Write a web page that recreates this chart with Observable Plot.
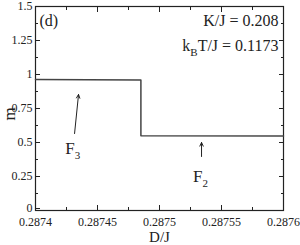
<!DOCTYPE html>
<html><head><meta charset="utf-8">
<script src="https://cdn.jsdelivr.net/npm/d3@7"></script>
<script src="https://cdn.jsdelivr.net/npm/@observablehq/plot@0.6"></script>
<style>body{margin:0;background:#fff}</style>
</head><body><div id="chart"></div>
<script>
// Data
const lineD = [0.2874, 0.287485, 0.287485, 0.2876];
const lineM = [0.963, 0.960, 0.550, 0.548];
const xTicks = [0.2874, 0.28745, 0.2875, 0.28755, 0.2876];
const xMinor = [0.287425, 0.287475, 0.287525, 0.287575];
const yTicks = [0, 0.25, 0.5, 0.75, 1, 1.25, 1.5];
const yMinor = [0.125, 0.375, 0.625, 0.875, 1.125, 1.375];
const arrowX1 = [0.2874315, 0.2875339];
const arrowY1 = [0.566, 0.397];
const arrowX2 = [0.2874347, 0.2875339];
const arrowY2 = [0.853, 0.50];
const phaseLabels = ["F_3", "F_2"];
const phaseX = [0.2874300, 0.2875330];
const phaseY = [0.455, 0.25];
const panelLabel = "(d)";
const paramLabels = ["K/J = 0.208", "k_BT/J = 0.1173"];

const lineData = lineD.map((d, i) => ({d, m: lineM[i]}));
const arrows = arrowX1.map((x, i) => ({x1: x, y1: arrowY1[i], x2: arrowX2[i], y2: arrowY2[i]}));
const phases = phaseLabels.map((t, i) => ({t, x: phaseX[i], y: phaseY[i]}));

const ink = "#222";
const fmt = d => String(d);
const none = () => "";

const plot = Plot.plot({
  width: 300, height: 245,
  marginLeft: 35, marginRight: 17, marginTop: 6, marginBottom: 35,
  style: {fontFamily: "'Liberation Serif', 'Times New Roman', serif", fontSize: "12px", color: ink, background: "#fff"},
  x: {domain: [0.2874, 0.2876]},
  y: {domain: [0, 1.5]},
  marks: [
    Plot.axisX(xTicks, {anchor: "bottom", tickSize: -5, tickPadding: 12, tickFormat: fmt, fontSize: 12, label: null}),
    Plot.axisX(xMinor, {anchor: "bottom", tickSize: -3, tickFormat: none, label: null}),
    Plot.axisX(xTicks, {anchor: "top", tickSize: -5, tickFormat: none, label: null}),
    Plot.axisX(xMinor, {anchor: "top", tickSize: -3, tickFormat: none, label: null}),
    Plot.axisY(yTicks.filter(d => d > 0), {anchor: "left", tickSize: -5, tickPadding: 8, tickFormat: fmt, fontSize: 12, label: null}),
    Plot.axisY(yTicks.filter(d => d === 0), {anchor: "left", tickSize: -5, tickPadding: 8, tickFormat: fmt, fontSize: 12, dy: -2, label: null}),
    Plot.axisY(yMinor, {anchor: "left", tickSize: -3, tickFormat: none, label: null}),
    Plot.axisY(yTicks, {anchor: "right", tickSize: -5, tickFormat: none, label: null}),
    Plot.axisY(yMinor, {anchor: "right", tickSize: -3, tickFormat: none, label: null}),
    Plot.frame({stroke: ink, strokeWidth: 1.2}),
    Plot.line(lineData, {x: "d", y: "m", stroke: "#444", strokeWidth: 1.5}),
    Plot.arrow(arrows, {x1: "x1", y1: "y1", x2: "x2", y2: "y2", stroke: ink, strokeWidth: 1, headLength: 6, headAngle: 50}),
    Plot.text(phases, {x: "x", y: "y", text: "t", fontSize: 17, fill: ink, textAnchor: "middle"}),
    Plot.text([panelLabel], {frameAnchor: "top-left", dx: 4, dy: 8, text: d => d, fontSize: 16, fill: ink, textAnchor: "start", lineAnchor: "top"}),
    Plot.text([paramLabels[0]], {frameAnchor: "top-right", dx: -5, dy: 8, text: d => d, fontSize: 16, fill: ink, textAnchor: "end", lineAnchor: "top"}),
    Plot.text([paramLabels[1]], {frameAnchor: "top-right", dx: -5, dy: 33, text: d => d, fontSize: 16, fill: ink, textAnchor: "end", lineAnchor: "top"}),
    Plot.text(["m"], {frameAnchor: "left", dx: -26, dy: 12, rotate: -90, text: d => d, fontSize: 17, fill: ink}),
    Plot.text(["D/J"], {frameAnchor: "bottom", dy: 21, text: d => d, fontSize: 15, fill: ink, lineAnchor: "top"})
  ]
});

// subscripts: "X_Yrest" -> X, sub Y, rest
d3.select(plot).selectAll("text").each(function() {
  const s = this.textContent;
  const i = s.indexOf("_");
  if (i < 0 || this.querySelector("tspan")) return;
  const before = s.slice(0, i), sub = s[i + 1], after = s.slice(i + 2);
  const el = d3.select(this);
  el.text(null);
  el.append("tspan").text(before);
  el.append("tspan").attr("font-size", 11).attr("dy", 5).text(sub);
  if (after) el.append("tspan").attr("dy", -5).text(after);
});

document.getElementById("chart").append(plot);
</script>
</body></html>
